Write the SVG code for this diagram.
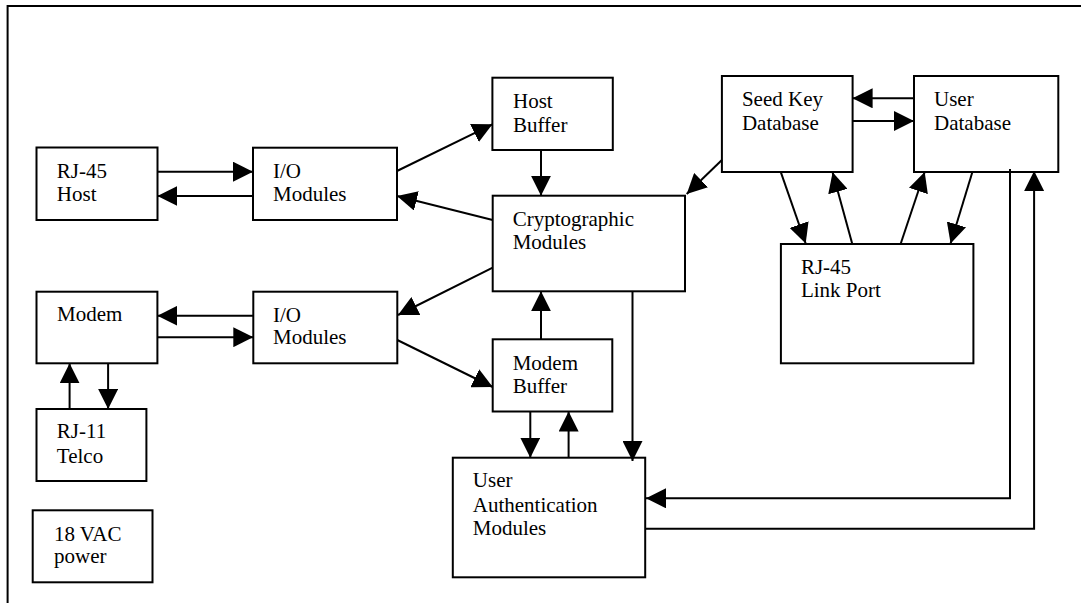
<svg xmlns="http://www.w3.org/2000/svg" width="1081" height="603" viewBox="0 0 1081 603">
<style>
.box{fill:#fff;stroke:#000;stroke-width:2}
.t{font-family:"Liberation Serif","Times New Roman",serif;font-size:21px;fill:#000}
.c{fill:none;stroke:#000;stroke-width:2}
</style>
<defs>
<marker id="ah" markerUnits="userSpaceOnUse" markerWidth="20" markerHeight="20" refX="20" refY="10" orient="auto" viewBox="0 0 20 20">
<path d="M0,0 L20,10 L0,20 Z" fill="#000"/>
</marker>
</defs>
<rect width="1081" height="603" fill="#fff"/>
<path d="M7.6,603 V6 H1081" fill="none" stroke="#000" stroke-width="2"/>

<g id="rj45host"><rect class="box" x="36.5" y="147.5" width="121" height="72.5"/><text class="t" x="56.8" y="178.3">RJ-45</text><text class="t" x="56.8" y="201">Host</text></g>
<g id="io1"><rect class="box" x="253" y="147.7" width="144" height="72.3"/><text class="t" x="273" y="178.3">I/O</text><text class="t" x="273" y="201">Modules</text></g>
<g id="hostbuf"><rect class="box" x="492.4" y="77.7" width="120.4" height="72.3"/><text class="t" x="513" y="108.3">Host</text><text class="t" x="513" y="131.5">Buffer</text></g>
<g id="crypto"><rect class="box" x="492.7" y="195.7" width="192.3" height="95.6"/><text class="t" x="512.7" y="226">Cryptographic</text><text class="t" x="512.7" y="248.5">Modules</text></g>
<g id="seedkey"><rect class="box" x="721.9" y="76" width="130.7" height="96"/><text class="t" x="741.9" y="106">Seed Key</text><text class="t" x="741.9" y="130">Database</text></g>
<g id="userdb"><rect class="box" x="914" y="76" width="144.3" height="96"/><text class="t" x="934" y="106">User</text><text class="t" x="934" y="130">Database</text></g>
<g id="linkport"><rect class="box" x="780.9" y="244" width="192.5" height="119.3"/><text class="t" x="800.9" y="274">RJ-45</text><text class="t" x="800.9" y="296.7">Link Port</text></g>
<g id="modem"><rect class="box" x="36.5" y="291.7" width="120.9" height="71.6"/><text class="t" x="57" y="321">Modem</text></g>
<g id="io2"><rect class="box" x="253.3" y="291.7" width="144" height="71.6"/><text class="t" x="273" y="321.7">I/O</text><text class="t" x="273" y="344.3">Modules</text></g>
<g id="modembuf"><rect class="box" x="492.7" y="339.3" width="119.6" height="72.2"/><text class="t" x="512.7" y="370">Modem</text><text class="t" x="512.7" y="392.5">Buffer</text></g>
<g id="rj11"><rect class="box" x="36.5" y="409" width="109.9" height="72"/><text class="t" x="56.8" y="438.3">RJ-11</text><text class="t" x="56.8" y="462.7">Telco</text></g>
<g id="power"><rect class="box" x="32.7" y="510.3" width="119.8" height="72"/><text class="t" x="54" y="540.7">18 VAC</text><text class="t" x="54" y="563.3">power</text></g>
<g id="userauth"><rect class="box" x="452.8" y="457.7" width="192.4" height="119.6"/><text class="t" x="472.8" y="487">User</text><text class="t" x="472.8" y="511.5">Authentication</text><text class="t" x="472.8" y="535">Modules</text></g>

<g id="connectors">
<line class="c" x1="157.4" y1="171.7" x2="253" y2="171.7" marker-end="url(#ah)"/>
<line class="c" x1="253" y1="196" x2="157.4" y2="196" marker-end="url(#ah)"/>
<line class="c" x1="397" y1="171" x2="492.4" y2="124.3" marker-end="url(#ah)"/>
<line class="c" x1="492.7" y1="220" x2="397" y2="196" marker-end="url(#ah)"/>
<line class="c" x1="541" y1="150" x2="541" y2="195.7" marker-end="url(#ah)"/>
<line class="c" x1="492.7" y1="267.7" x2="398" y2="315" marker-end="url(#ah)"/>
<line class="c" x1="253.3" y1="315.7" x2="157.4" y2="315.7" marker-end="url(#ah)"/>
<line class="c" x1="157.4" y1="337.2" x2="253.3" y2="337.2" marker-end="url(#ah)"/>
<line class="c" x1="397.3" y1="340" x2="492.7" y2="387" marker-end="url(#ah)"/>
<line class="c" x1="541" y1="339.3" x2="541" y2="291.3" marker-end="url(#ah)"/>
<line class="c" x1="69.6" y1="409" x2="69.6" y2="363.3" marker-end="url(#ah)"/>
<line class="c" x1="108.1" y1="363.3" x2="108.1" y2="409" marker-end="url(#ah)"/>
<line class="c" x1="530.3" y1="411.5" x2="530.3" y2="457.7" marker-end="url(#ah)"/>
<line class="c" x1="568.6" y1="457.7" x2="568.6" y2="411.5" marker-end="url(#ah)"/>
<line class="c" x1="632.5" y1="291.3" x2="632.5" y2="461" marker-end="url(#ah)"/>
<line class="c" x1="721.9" y1="160" x2="686.7" y2="194" marker-end="url(#ah)"/>
<line class="c" x1="914" y1="98.3" x2="852.6" y2="98.3" marker-end="url(#ah)"/>
<line class="c" x1="852.6" y1="121" x2="914" y2="121" marker-end="url(#ah)"/>
<line class="c" x1="780.9" y1="172.3" x2="805.7" y2="243.5" marker-end="url(#ah)"/>
<line class="c" x1="852.3" y1="244" x2="832.6" y2="172.3" marker-end="url(#ah)"/>
<line class="c" x1="900.6" y1="244" x2="924.7" y2="172" marker-end="url(#ah)"/>
<line class="c" x1="972.4" y1="172" x2="950.6" y2="243.5" marker-end="url(#ah)"/>
<polyline class="c" points="1010,169 1010,498.3 646,498.3" marker-end="url(#ah)"/>
<polyline class="c" points="645.2,528.7 1034.1,528.7 1034.1,171" marker-end="url(#ah)"/>
</g>
</svg>
